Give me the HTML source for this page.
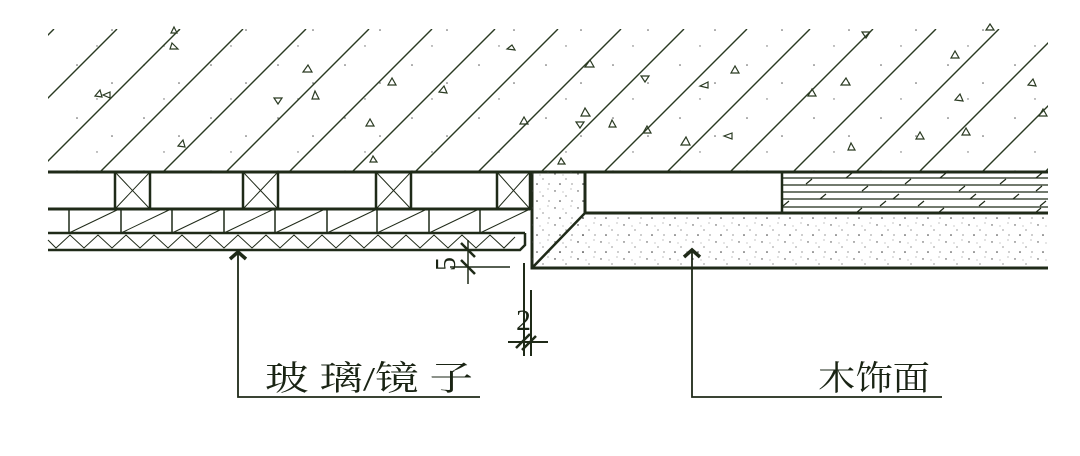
<!DOCTYPE html>
<html><head><meta charset="utf-8"><style>
html,body{margin:0;padding:0;background:#fff;}
svg{display:block;}
text{font-family:"Liberation Serif","Noto Serif CJK SC",serif;fill:#1a2414;}
</style></head><body>
<svg width="1080" height="456" viewBox="0 0 1080 456" xmlns="http://www.w3.org/2000/svg">
<defs>
<clipPath id="c1"><rect x="48" y="29" width="1000" height="143"/></clipPath>
<pattern id="dots" width="23" height="17" patternUnits="userSpaceOnUse">
<circle cx="3" cy="4" r="0.7" fill="#444"/><circle cx="14" cy="9" r="0.6" fill="#555"/><circle cx="8" cy="14" r="0.8" fill="#333"/><circle cx="19" cy="2" r="0.5" fill="#666"/><circle cx="11" cy="5" r="0.5" fill="#777"/><circle cx="20" cy="14" r="0.6" fill="#555"/>
</pattern>
<pattern id="sdots" width="67" height="53" patternUnits="userSpaceOnUse">
<circle cx="10" cy="12" r="0.8" fill="#555"/><circle cx="45" cy="30" r="0.8" fill="#555"/><circle cx="30" cy="46" r="0.7" fill="#666"/>
</pattern>
</defs>
<rect width="1080" height="456" fill="#fff"/>
<g clip-path="url(#c1)" stroke="#2a3a22" stroke-width="1.4">
<rect x="48" y="29" width="1000" height="143" fill="url(#sdots)" stroke="none"/>
<line x1="54" y1="29" x2="-89" y2="172"/>
<line x1="117" y1="29" x2="-26" y2="172"/>
<line x1="180" y1="29" x2="37" y2="172"/>
<line x1="243" y1="29" x2="100" y2="172"/>
<line x1="306" y1="29" x2="163" y2="172"/>
<line x1="369" y1="29" x2="226" y2="172"/>
<line x1="432" y1="29" x2="289" y2="172"/>
<line x1="495" y1="29" x2="352" y2="172"/>
<line x1="558" y1="29" x2="415" y2="172"/>
<line x1="621" y1="29" x2="478" y2="172"/>
<line x1="684" y1="29" x2="541" y2="172"/>
<line x1="747" y1="29" x2="604" y2="172"/>
<line x1="810" y1="29" x2="667" y2="172"/>
<line x1="873" y1="29" x2="730" y2="172"/>
<line x1="936" y1="29" x2="793" y2="172"/>
<line x1="999" y1="29" x2="856" y2="172"/>
<line x1="1062" y1="29" x2="919" y2="172"/>
<line x1="1125" y1="29" x2="982" y2="172"/>
<line x1="1188" y1="29" x2="1045" y2="172"/>
</g>
<g fill="none" stroke="#2a3a22" stroke-width="1.2">
<path d="M172,43 l6,6 h-8z"/><path d="M95,96 l5,-6 l2,7z"/><path d="M110,92 l-7,3 7,3z"/>
<path d="M174,27 l3,6 h-6z"/><path d="M178,146 l5,-6 2,7z"/><path d="M308,65 l4,7 h-9z"/>
<path d="M315,91 l-3,8 h7z"/><path d="M278,104 l-4,-6 h8z"/><path d="M370,119 l-4,7 h8z"/>
<path d="M392,78 l-4,7 h8z"/><path d="M444,86 l-5,6 8,1z"/><path d="M373,156 l-3,6 h7z"/>
<path d="M512,45 l-5,4 8,1z"/><path d="M590,60 l-5,7 h9z"/>
<path d="M524,117 l-4,7 h8z"/><path d="M580,128 l-4,-6 h8z"/><path d="M585,108 l-4,8 h9z"/>
<path d="M645,82 l-4,-6 h8z"/><path d="M647,126 l-4,7 h8z"/><path d="M708,82 l-8,4 8,2z"/>
<path d="M735,66 l-4,7 h8z"/><path d="M812,89 l-4,7 h8z"/><path d="M846,78 l-5,7 h9z"/>
<path d="M851,143 l-3,7 h7z"/><path d="M955,51 l-4,7 h8z"/><path d="M960,94 l-5,6 8,1z"/>
<path d="M1033,79 l-5,6 8,1z"/><path d="M1043,109 l-4,7 h8z"/><path d="M866,38 l4,-6 h-8z"/>
<path d="M990,24 l4,6 h-8z"/><path d="M612,120 l-3,7 h7z"/><path d="M561,158 l-3,6 h7z"/>
<path d="M686,137 l-5,8 h9z"/><path d="M920,132 l-4,7 h8z"/><path d="M966,128 l-4,7 h8z"/>
<path d="M732,133 l-8,3 8,3z"/>
</g>
<g stroke="#1f2a18" fill="none">
<line x1="48" y1="172" x2="1048" y2="172" stroke-width="3"/>
<line x1="48" y1="209" x2="530" y2="209" stroke-width="3"/>
<line x1="48" y1="233" x2="525" y2="233" stroke-width="2.5"/>
<path d="M48,250 H520 l5,-5 V233" stroke-width="2.5"/>
<g stroke-width="2.5">
<rect x="115" y="172" width="35" height="37"/><rect x="243" y="172" width="35" height="37"/>
<rect x="376" y="172" width="35" height="37"/><rect x="497" y="172" width="33" height="37"/>
</g>
<g stroke-width="1">
<path d="M115,172 L150,209 M150,172 L115,209 M243,172 L278,209 M278,172 L243,209 M376,172 L411,209 M411,172 L376,209 M497,172 L530,209 M530,172 L497,209"/>
</g>
<g stroke-width="1.5">
<path d="M69,209 V233 M121,209 V233 M172,209 V233 M224,209 V233 M275,209 V233 M327,209 V233 M377,209 V233 M429,209 V233 M480,209 V233"/>
</g>
<g stroke-width="1">
<path d="M69,233 L117,210 M121,233 L169,210 M172,233 L220,210 M224,233 L272,210 M275,233 L323,210 M327,233 L375,210 M377,233 L425,210 M429,233 L477,210 M480,233 L528,210"/>
<path d="M48,240 L56,248 L70,235 L84,248 L98,235 L112,248 L126,235 L140,248 L154,235 L168,248 L182,235 L196,248 L210,235 L224,248 L238,235 L252,248 L266,235 L280,248 L294,235 L308,248 L322,235 L336,248 L350,235 L364,248 L378,235 L392,248 L406,235 L420,248 L434,235 L448,248 L462,235 L476,248 L490,235 L504,248 L515,237"/>
</g>
</g>
<g stroke="#1f2a18" fill="none">
<path d="M532,172 V268 H1048" stroke-width="3"/>
<rect x="532" y="172" width="53" height="96" fill="url(#dots)" stroke="none"/>
<path d="M585,213 L532,268 H1048 V213 Z" fill="url(#dots)" stroke="none"/>
<path d="M585,172 V213 H1048" stroke-width="3"/>
<line x1="585" y1="213" x2="532" y2="268" stroke-width="2.5"/>
<line x1="782" y1="172" x2="782" y2="213" stroke-width="2.5"/>
<g stroke-width="1.2">
<path d="M782,178 H1048 M782,185 H1048 M782,192 H1048 M782,199 H1048 M782,207 H1048"/>
<path d="M806,184 l6,-5 M846,178 l6,-5 M905,184 l6,-5 M940,178 l6,-5 M1000,184 l6,-5 M1036,178 l6,-5 M862,191 l6,-5 M959,191 l6,-5 M1036,191 l6,-5 M820,199 l6,-5 M893,199 l6,-5 M970,199 l6,-5 M1013,199 l6,-5 M783,206 l6,-5 M880,206 l6,-5 M918,206 l6,-5 M979,206 l6,-5 M1040,206 l6,-5 M856,213 l6,-5 M938,213 l6,-5 M1035,213 l6,-5"/>
</g>
</g>
<g stroke="#1f2a18" fill="none">
<line x1="468" y1="240" x2="468" y2="284" stroke-width="1.5"/>
<line x1="450" y1="267" x2="510" y2="267" stroke-width="1.5"/>
<path d="M461,243 l14,14 M461,260 l14,14" stroke-width="2.5"/>
<line x1="524" y1="263" x2="524" y2="356" stroke-width="2"/>
<line x1="531" y1="290" x2="531" y2="356" stroke-width="2"/>
<line x1="508" y1="342" x2="548" y2="342" stroke-width="2"/>
<path d="M516,348 l14,-14 M522,350 l14,-14" stroke-width="2.5"/>
</g>
<text x="0" y="0" font-size="28" transform="translate(455,271) rotate(-90)">5</text>
<text x="516" y="330" font-size="30">2</text>
<g stroke="#1f2a18" fill="none">
<path d="M238,252 V397 H480" stroke-width="1.8"/>
<path d="M230,259 l8,-7 8,7" stroke-width="3.5"/>
<path d="M692,250 V397 H942" stroke-width="1.8"/>
<path d="M684,257 l8,-7 8,7" stroke-width="3.5"/>
</g>
<text x="265" y="390" font-size="34" textLength="208" lengthAdjust="spacingAndGlyphs">玻 璃/镜 子</text>
<text x="818" y="390" font-size="34" textLength="112" lengthAdjust="spacingAndGlyphs">木饰面</text>
</svg>
</body></html>
